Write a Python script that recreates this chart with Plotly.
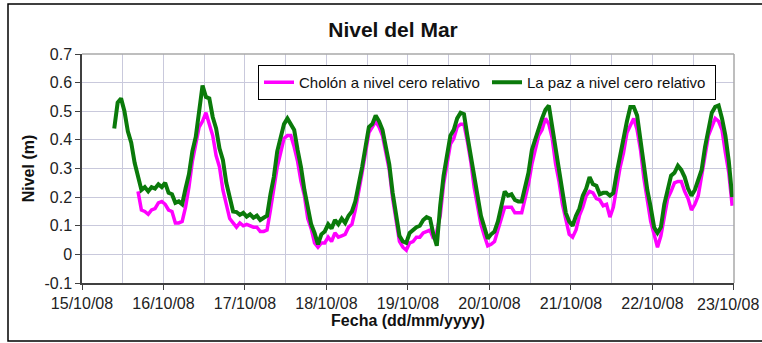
import pandas as pd
import plotly.graph_objects as go

# ---- data ----
green_start = "2008-10-15 09:30"   # hourly readings
la_paz = [
    0.44, 0.53, 0.545, 0.50, 0.43, 0.39, 0.32, 0.27, 0.225, 0.235,
    0.22, 0.235, 0.23, 0.245, 0.235, 0.25, 0.215, 0.21, 0.18, 0.185,
    0.175, 0.23, 0.28, 0.36, 0.41, 0.50, 0.59, 0.55, 0.545, 0.48,
    0.44, 0.37, 0.33, 0.25, 0.2, 0.15, 0.148, 0.138, 0.145, 0.132,
    0.14, 0.128, 0.135, 0.12, 0.128, 0.135, 0.21, 0.27, 0.36, 0.405,
    0.455, 0.475, 0.455, 0.435, 0.365, 0.305, 0.225, 0.165, 0.105, 0.075,
    0.035, 0.07, 0.08, 0.105, 0.09, 0.12, 0.105, 0.125, 0.11, 0.135,
    0.15, 0.185, 0.24, 0.305, 0.375, 0.445, 0.455, 0.485, 0.465, 0.435,
    0.375, 0.315, 0.215, 0.135, 0.065, 0.045, 0.04, 0.075, 0.085, 0.095,
    0.1, 0.12, 0.13, 0.125, 0.07, 0.03, 0.17, 0.275, 0.345, 0.415,
    0.435, 0.475, 0.495, 0.49, 0.415, 0.345, 0.255, 0.205, 0.135, 0.095,
    0.055, 0.07, 0.08, 0.115, 0.165, 0.22, 0.205, 0.21, 0.19, 0.185,
    0.185, 0.235, 0.285, 0.365, 0.405, 0.445, 0.475, 0.505, 0.52, 0.445,
    0.365, 0.285, 0.215, 0.145, 0.115, 0.1, 0.135, 0.16, 0.205, 0.23,
    0.27, 0.245, 0.24, 0.21, 0.215, 0.215, 0.205, 0.215, 0.285, 0.345,
    0.415, 0.465, 0.515, 0.515, 0.485, 0.395, 0.325, 0.225, 0.165, 0.095,
    0.075, 0.095, 0.175, 0.225, 0.275, 0.285, 0.31, 0.295, 0.27, 0.23,
    0.205, 0.225, 0.265, 0.295, 0.375, 0.435, 0.495, 0.515, 0.52, 0.475,
    0.415, 0.325, 0.2,
]

magenta_start = "2008-10-15 16:30"  # hourly readings
cholon = [
    0.22, 0.155, 0.15, 0.14, 0.155, 0.16, 0.18, 0.185, 0.175, 0.155,
    0.15, 0.11, 0.11, 0.115, 0.165, 0.235, 0.325, 0.385, 0.445, 0.465,
    0.495, 0.455, 0.415, 0.345, 0.305, 0.225, 0.175, 0.125, 0.11, 0.095,
    0.11, 0.1, 0.105, 0.1, 0.095, 0.095, 0.08, 0.08, 0.085, 0.155,
    0.225, 0.305, 0.355, 0.405, 0.415, 0.415, 0.375, 0.325, 0.255, 0.205,
    0.125, 0.09, 0.04, 0.025, 0.04, 0.04, 0.06, 0.045, 0.075, 0.06,
    0.065, 0.07, 0.095, 0.105, 0.155, 0.215, 0.285, 0.355, 0.425, 0.445,
    0.465, 0.445, 0.415, 0.355, 0.295, 0.195, 0.115, 0.045, 0.025, 0.015,
    0.04, 0.045, 0.06, 0.06, 0.075, 0.08, 0.085, 0.055, 0.08, 0.135,
    0.245, 0.315, 0.385, 0.405, 0.445, 0.455, 0.455, 0.395, 0.325, 0.235,
    0.175, 0.105, 0.065, 0.03, 0.035, 0.045, 0.085, 0.125, 0.165, 0.165,
    0.165, 0.145, 0.145, 0.145, 0.195, 0.245, 0.315, 0.365, 0.415, 0.435,
    0.475, 0.455, 0.405, 0.315, 0.255, 0.175, 0.125, 0.07, 0.06, 0.085,
    0.135, 0.165, 0.205, 0.22, 0.215, 0.195, 0.19, 0.17, 0.175, 0.13,
    0.165, 0.235, 0.305, 0.355, 0.425, 0.45, 0.475, 0.435, 0.365, 0.265,
    0.195, 0.115, 0.07, 0.025, 0.065, 0.125, 0.195, 0.22, 0.25, 0.255,
    0.255, 0.22, 0.195, 0.155, 0.175, 0.205, 0.285, 0.345, 0.415, 0.445,
    0.475, 0.465, 0.435, 0.355, 0.285, 0.17,
]

x_tick_dates = ["2008-10-15", "2008-10-16", "2008-10-17", "2008-10-18", "2008-10-19",
                "2008-10-20", "2008-10-21", "2008-10-22", "2008-10-23"]
x_tick_labels = ["15/10/08", "16/10/08", "17/10/08", "18/10/08", "19/10/08",
                 "20/10/08", "21/10/08", "22/10/08", "23/10/08"]
y_tick_vals = [-0.1, 0, 0.1, 0.2, 0.3, 0.4, 0.5, 0.6, 0.7]
y_tick_labels = ["-0.1", "0", "0.1", "0.2", "0.3", "0.4", "0.5", "0.6", "0.7"]

t_green = pd.date_range(green_start, periods=len(la_paz), freq="h")
t_mag = pd.date_range(magenta_start, periods=len(cholon), freq="h")

FONT = "Liberation Sans, Arial, sans-serif"
GRID = "#c9c9dc"

fig = go.Figure()
fig.add_trace(go.Scatter(x=t_mag, y=cholon, mode="lines", name="Cholón a nivel cero relativo",
                         line=dict(color="#ff00ff", width=3.5)))
fig.add_trace(go.Scatter(x=t_green, y=la_paz, mode="lines", name="La paz a nivel cero relativo",
                         line=dict(color="#0a7a0a", width=4)))

W, H = 762, 343
L, R, T, B = 82, 28, 54, 60
pw, ph = W - L - R, H - T - B

def px(xp):
    return (xp - L) / pw

def py(yp):
    return (H - B - yp) / ph

# last date label sits at the right edge; keep it fully visible
tick_text = x_tick_labels[:-1] + [""]

fig.update_layout(
    width=W, height=H,
    margin=dict(l=L, r=R, t=T, b=B, pad=0),
    paper_bgcolor="white", plot_bgcolor="white",
    font=dict(family=FONT, color="#222222"),
    title=dict(text="<b>Nivel del Mar</b>", x=393 / W, xanchor="center", xref="container",
               y=1 - 30 / H, yanchor="middle", yref="container",
               font=dict(size=21, color="#111111", family=FONT)),
    showlegend=True,
    legend=dict(orientation="h", x=px(258), xanchor="left", y=py(65), yanchor="top",
                bgcolor="white", bordercolor="#000000", borderwidth=1,
                font=dict(size=15, color="#111111", family=FONT),
                itemwidth=30, entrywidth=183, tracegroupgap=0),
    xaxis=dict(
        range=[pd.Timestamp("2008-10-15"), pd.Timestamp("2008-10-23 00:02")],
        tickmode="array", tickvals=pd.to_datetime(x_tick_dates), ticktext=tick_text,
        ticks="outside", ticklen=5, tickcolor="#404040",
        showline=True, linecolor="#404040", linewidth=1.5,
        showgrid=True, gridcolor=GRID, gridwidth=1,
        minor=dict(dtick=43200000, showgrid=True, gridcolor=GRID, gridwidth=1,
                   tick0="2008-10-15"),
        tickfont=dict(size=16, color="#222222", family=FONT),
        title=dict(text="<b>Fecha (dd/mm/yyyy)</b>", standoff=2,
                   font=dict(size=16, color="#111111", family=FONT)),
        zeroline=False, automargin=False,
    ),
    yaxis=dict(
        range=[-0.1, 0.7],
        tickmode="array", tickvals=y_tick_vals, ticktext=y_tick_labels,
        ticks="outside", ticklen=5, tickcolor="#404040",
        showline=True, linecolor="#404040", linewidth=1.5,
        showgrid=True, gridcolor=GRID, gridwidth=1,
        tickfont=dict(size=16, color="#222222", family=FONT),
        title=dict(text="<b>Nivel (m)</b>", standoff=6,
                   font=dict(size=16, color="#111111", family=FONT)),
        zeroline=False, automargin=False,
    ),
    annotations=[
        dict(text=x_tick_labels[-1], xref="paper", yref="paper", x=px(761), xanchor="right",
             y=py(294), yanchor="top", showarrow=False,
             font=dict(size=16, color="#222222", family=FONT)),
    ],
    shapes=[
        dict(type="line", xref="paper", yref="paper", x0=0, x1=1, y0=1, y1=1,
             line=dict(color="#a8a8a8", width=1.5)),
        dict(type="line", xref="paper", yref="paper", x0=1, x1=1, y0=0, y1=1,
             line=dict(color="#a8a8a8", width=1.5)),
        dict(type="rect", xref="paper", yref="paper", x0=px(8), x1=px(775), y0=py(341), y1=py(4),
             line=dict(color="#000000", width=1.5), layer="below"),
    ],
)

fig.write_html("out.html")
